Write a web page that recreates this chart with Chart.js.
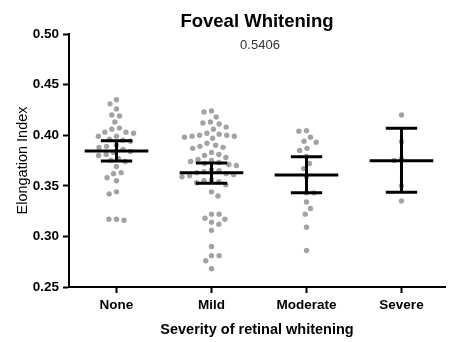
<!DOCTYPE html>
<html><head><meta charset="utf-8">
<script src="https://cdn.jsdelivr.net/npm/chart.js@4/dist/chart.umd.min.js"></script>
<style>html,body{margin:0;padding:0;background:#fff}#wrap{width:449px;height:342px}</style>
</head><body><div id="wrap"><canvas id="c" width="449" height="342"></canvas></div>
<script>
const categories = ['None', 'Mild', 'Moderate', 'Severe'];
const noneValues = [0.435, 0.431, 0.426, 0.420, 0.419, 0.413, 0.407, 0.406, 0.403, 0.403, 0.402, 0.399, 0.399,
  0.396, 0.395, 0.394, 0.390, 0.389, 0.388, 0.386, 0.384, 0.383, 0.381, 0.380, 0.377, 0.375, 0.374,
  0.369, 0.363, 0.362, 0.358, 0.355, 0.344, 0.342, 0.317, 0.316, 0.317];
const mildValues = [0.424, 0.423, 0.418, 0.413, 0.412, 0.411, 0.408, 0.406,
  0.402, 0.401, 0.400, 0.400, 0.399, 0.399, 0.398, 0.397,
  0.392, 0.390, 0.389, 0.388, 0.387,
  0.383, 0.381, 0.380, 0.378,
  0.376, 0.375, 0.374, 0.373, 0.372, 0.371, 0.370,
  0.366, 0.365, 0.364, 0.363, 0.362, 0.361, 0.360, 0.359,
  0.356, 0.355, 0.354, 0.353, 0.351,
  0.344, 0.340,
  0.322, 0.322, 0.318, 0.317, 0.314, 0.312,
  0.306, 0.290, 0.281, 0.281, 0.276, 0.268];
const moderateValues = [0.4045, 0.404, 0.398, 0.393, 0.394, 0.385, 0.387, 0.379, 0.372, 0.367, 0.359,
  0.343, 0.343, 0.334, 0.3275, 0.322, 0.309, 0.286];
const severeValues = [0.420, 0.3936, 0.375, 0.3765, 0.350, 0.335];
const means = [0.3844, 0.3630, 0.3607, 0.3748];
const ciLower = [0.3745, 0.3524, 0.3432, 0.3436];
const ciUpper = [0.3946, 0.3725, 0.3788, 0.4068];
const yTicks = [0.25, 0.30, 0.35, 0.40, 0.45, 0.50];
const titleText = 'Foveal Whitening';
const subtitleText = '0.5406';
const xTitle = 'Severity of retinal whitening';
const yTitle = 'Elongation Index';

const FONT = "'Liberation Sans', Arial, Helvetica, sans-serif";
const groups = [noneValues, mildValues, moderateValues, severeValues];

// beeswarm layout in pixel space, converted back to category units
function swarm(values, pxPerX, pxPerY, diam) {
  const placed = [];
  const order = values.map((v, i) => i).sort((a, b) => values[b] - values[a]);
  const offsets = new Array(values.length).fill(0);
  let flip = 1;
  for (const i of order) {
    const yp = values[i] * pxPerY;
    const near = placed.filter(p => Math.abs(p.y - yp) < diam);
    const cands = [0];
    near.forEach(p => {
      const dx = Math.sqrt(diam * diam - (p.y - yp) ** 2);
      cands.push(p.x + dx, p.x - dx);
    });
    cands.sort((a, b) => Math.abs(a) - Math.abs(b) || (flip * (b - a)));
    let chosen = 0;
    for (const c of cands) {
      if (near.every(p => (p.x - c) ** 2 + (p.y - yp) ** 2 >= diam * diam - 1e-6)) { chosen = c; break; }
    }
    flip = -flip;
    placed.push({ x: chosen, y: yp });
    offsets[i] = chosen / pxPerX;
  }
  return offsets;
}

const dotData = [];
groups.forEach((vals, gi) => {
  const off = swarm(vals, 96, 1012, 7.7);
  vals.forEach((v, k) => dotData.push({ x: gi + off[k], y: v }));
});

const MEAN_HW = 0.335, CAP_HW = 0.165;
const barData = [];
means.forEach((m, i) => {
  barData.push({ x: i - MEAN_HW, y: m }, { x: i + MEAN_HW, y: m }, { x: i, y: null });
  barData.push({ x: i, y: ciLower[i] }, { x: i, y: ciUpper[i] }, { x: i, y: null });
  barData.push({ x: i - CAP_HW, y: ciUpper[i] }, { x: i + CAP_HW, y: ciUpper[i] }, { x: i, y: null });
  barData.push({ x: i - CAP_HW, y: ciLower[i] }, { x: i + CAP_HW, y: ciLower[i] }, { x: i, y: null });
});

const subtitlePlugin = {
  id: 'subtitleInPlot',
  afterDraw(chart) {
    const { ctx, chartArea } = chart;
    ctx.save();
    ctx.font = '13px ' + FONT;
    ctx.fillStyle = '#333';
    ctx.textAlign = 'center';
    ctx.textBaseline = 'middle';
    ctx.fillText(subtitleText, (chartArea.left + chartArea.right) / 2 + 3, chartArea.top + 11);
    ctx.restore();
  }
};

new Chart(document.getElementById('c'), {
  type: 'scatter',
  data: {
    datasets: [
      { type: 'line', data: barData, borderColor: '#000', borderWidth: 3, pointRadius: 0, showLine: true,
        spanGaps: false, fill: false, order: 1, borderCapStyle: 'butt' },
      { data: dotData, backgroundColor: '#a3a3a3', borderWidth: 0, pointRadius: 2.7, order: 2 }
    ]
  },
  options: {
    responsive: false,
    devicePixelRatio: 1,
    animation: false,
    layout: { padding: { left: 0, right: 0, top: 0, bottom: 0 } },
    plugins: {
      legend: { display: false },
      tooltip: { enabled: false },
      title: { display: true, text: titleText, fullSize: false, color: '#000',
        font: { family: FONT, size: 18.5, weight: 'bold', lineHeight: 1.2 },
        padding: { top: 10.5, bottom: 1.3 } }
    },
    scales: {
      x: {
        type: 'linear', min: -0.5, max: 3.458,
        afterBuildTicks: s => { s.ticks = categories.map((c, i) => ({ value: i })); },
        afterFit: s => { s.height = 55; },
        ticks: { callback: v => categories[v], color: '#000', padding: 4, maxRotation: 0, autoSkip: false,
          font: { family: FONT, size: 13.5, weight: 'bold' } },
        grid: { display: true, drawOnChartArea: false, drawTicks: true, tickLength: 6, tickColor: '#000', tickWidth: 2 },
        border: { display: true, color: '#000', width: 2 },
        title: { display: true, text: xTitle, color: '#000', padding: { top: 0, bottom: 3.5 },
          font: { family: FONT, size: 14.5, weight: 'bold', lineHeight: 1.2 } }
      },
      y: {
        min: 0.25, max: 0.50,
        afterBuildTicks: s => { s.ticks = yTicks.map(v => ({ value: v })); },
        afterFit: s => { s.width = 69; },
        ticks: { callback: v => v.toFixed(2), color: '#000', padding: 4,
          font: { family: FONT, size: 13.5, weight: 'bold' } },
        grid: { display: true, drawOnChartArea: false, drawTicks: true, tickLength: 6, tickColor: '#000', tickWidth: 2 },
        border: { display: true, color: '#000', width: 2 },
        title: { display: true, text: yTitle, color: '#000', padding: { top: 14, bottom: 0 },
          font: { family: FONT, size: 14.5, weight: 'normal', lineHeight: 1.2 } }
      }
    }
  },
  plugins: [subtitlePlugin]
});
</script>
</body></html>
